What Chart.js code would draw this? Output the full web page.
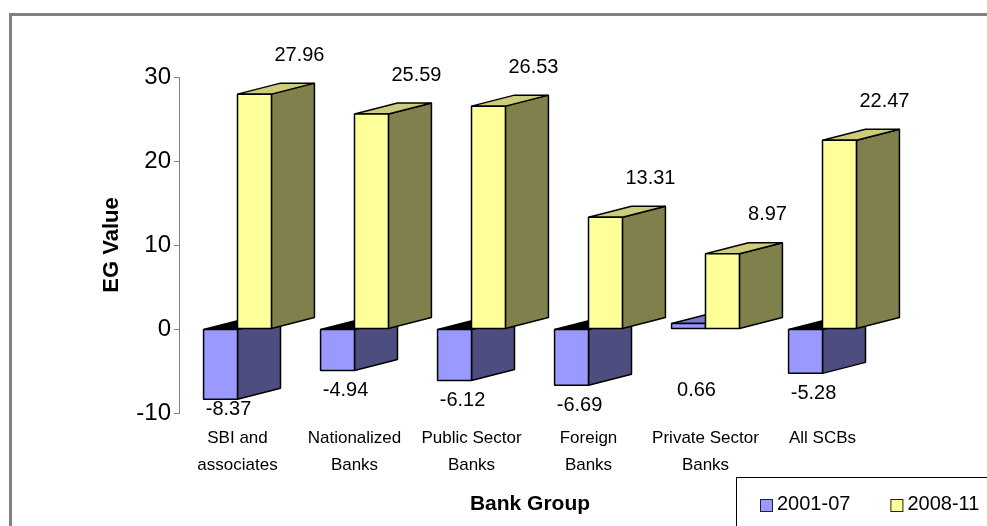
<!DOCTYPE html>
<html>
<head>
<meta charset="utf-8">
<title>EG Value by Bank Group</title>
<script src="https://cdn.jsdelivr.net/npm/chart.js@4.4.1/dist/chart.umd.min.js"></script>
<style>
  html, body { margin: 0; padding: 0; background: #fff; }
  canvas { display: block; }
</style>
</head>
<body>
<canvas id="egChart" width="987" height="526"></canvas>
<script>
const bankGroups = [
  ['SBI and', 'associates'],
  ['Nationalized', 'Banks'],
  ['Public Sector', 'Banks'],
  ['Foreign', 'Banks'],
  ['Private Sector', 'Banks'],
  ['All SCBs']
];
const periods = ['2001-07', '2008-11'];
const eg2001 = [-8.37, -4.94, -6.12, -6.69, 0.66, -5.28];
const eg2008 = [27.96, 25.59, 26.53, 13.31, 8.97, 22.47];

const fontFamily = 'Arial, "Liberation Sans", sans-serif';

// front / side / top shading of the boxes
const faces = [
  { front: '#9999FF', side: '#4D4D80', top: '#7A7ACC' },
  { front: '#FFFF99', side: '#80804D', top: '#CCCC7A' }
];

// oblique depth of each box
const depthX = 43;
const depthY = -11;

function face(c, pts, fill) {
  c.beginPath();
  c.moveTo(pts[0][0], pts[0][1]);
  for (let k = 1; k < pts.length; k++) c.lineTo(pts[k][0], pts[k][1]);
  c.closePath();
  c.fillStyle = fill;
  c.fill();
  c.stroke();
}

// draws every bar as a box, category by category so the front faces overlap properly
const bars3d = {
  id: 'bars3d',
  beforeDatasetsDraw(chart) {
    const c = chart.ctx;
    const metas = chart.data.datasets.map((ds, d) => chart.getDatasetMeta(d));
    c.save();
    c.lineWidth = 1.5;
    c.strokeStyle = '#000';
    c.lineJoin = 'bevel';
    for (let i = 0; i < chart.data.labels.length; i++) {
      metas.forEach((meta, d) => {
        const bar = meta.data[i];
        const v = chart.data.datasets[d].data[i];
        const l = bar.x - bar.width / 2;
        const r = bar.x + bar.width / 2;
        const t = Math.min(bar.y, bar.base);
        const b = Math.max(bar.y, bar.base);
        const f = faces[d];
        face(c, [[r, t], [r + depthX, t + depthY], [r + depthX, b + depthY], [r, b]], f.side);
        face(c, [[l, t], [r, t], [r + depthX, t + depthY], [l + depthX, t + depthY]], v < 0 ? '#000' : f.top);
        face(c, [[l, t], [r, t], [r, b], [l, b]], f.front);
      });
    }
    c.restore();
    return false;
  }
};

// value labels
const valueLabels = {
  id: 'valueLabels',
  afterDraw(chart) {
    const c = chart.ctx;
    const zero = chart.scales.y.getPixelForValue(0);
    const floor = chart.chartArea.bottom - 4;
    c.save();
    c.font = '20px ' + fontFamily;
    c.fillStyle = '#000';
    c.textAlign = 'center';
    c.textBaseline = 'middle';
    chart.data.datasets.forEach((ds, d) => {
      chart.getDatasetMeta(d).data.forEach((bar, i) => {
        const txt = ds.data[i].toFixed(2);
        if (d === 0) {
          // 2001-07 labels go in a lane under the zero line
          const below = Math.max(bar.y, bar.base) + 20;
          c.fillText(txt, bar.x + 8, Math.min(Math.max(below, zero + 61), floor));
        } else {
          // 2008-11 labels float over the back edge of the box
          c.fillText(txt, bar.x + depthX + 2, bar.y + depthY - 28);
        }
      });
    });
    c.restore();
  }
};

// page frame and the boxed legend in the lower right corner
const frame = {
  id: 'frame',
  beforeDraw(chart) {
    const c = chart.ctx;
    c.save();
    c.fillStyle = '#fff';
    c.fillRect(0, 0, chart.width, chart.height);
    c.strokeStyle = '#808080';
    c.lineWidth = 3;
    c.beginPath();
    c.moveTo(10.5, chart.height + 5);
    c.lineTo(10.5, 14.5);
    c.lineTo(chart.width + 5, 14.5);
    c.stroke();
    c.restore();
  },
  afterDraw(chart) {
    const c = chart.ctx;
    c.save();
    c.strokeStyle = '#000';
    c.lineWidth = 1;
    c.strokeRect(736.5, 477.5, 400, 100);
    c.font = '20px ' + fontFamily;
    c.textBaseline = 'middle';
    let x = 760;
    const cy = 504;
    chart.data.datasets.forEach(ds => {
      c.fillStyle = ds.backgroundColor;
      c.fillRect(x, cy - 5, 13, 13);
      c.strokeStyle = '#222';
      c.strokeRect(x + 0.5, cy - 4.5, 12, 12);
      c.fillStyle = '#000';
      c.fillText(ds.label, x + 17, cy);
      x += 17 + c.measureText(ds.label).width + 40;
    });
    c.restore();
  }
};

const ctx = document.getElementById('egChart').getContext('2d');

new Chart(ctx, {
  type: 'bar',
  data: {
    labels: bankGroups,
    datasets: [{
      label: periods[0],
      data: eg2001,
      backgroundColor: faces[0].front
    }, {
      label: periods[1],
      data: eg2008,
      backgroundColor: faces[1].front
    }]
  },
  options: {
    responsive: false,
    animation: false,
    categoryPercentage: 0.58,
    barPercentage: 1.0,
    layout: {
      padding: { top: 77, right: 106, bottom: 0, left: 0 }
    },
    plugins: {
      legend: { display: false },
      tooltip: { enabled: false }
    },
    scales: {
      x: {
        grid: { display: false },
        border: { display: false },
        ticks: {
          color: '#000',
          padding: 4,
          maxRotation: 0,
          autoSkip: false,
          font: { size: 17, family: fontFamily, lineHeight: 1.57 }
        },
        title: {
          display: true,
          text: 'Bank Group',
          color: '#000',
          padding: { top: 0, bottom: 9 },
          font: { size: 21, family: fontFamily, weight: 'bold' }
        },
        afterFit(scale) { scale.height = 113; }
      },
      y: {
        min: -10,
        max: 30,
        grid: {
          display: true,
          drawOnChartArea: false,
          drawTicks: true,
          tickLength: 5,
          color: '#808080'
        },
        border: { display: true, color: '#808080', width: 1 },
        ticks: {
          stepSize: 10,
          color: '#000',
          padding: 3,
          font: { size: 24, family: fontFamily }
        },
        title: {
          display: true,
          text: 'EG Value',
          color: '#000',
          padding: { top: 99, bottom: 0 },
          font: { size: 22, family: fontFamily, weight: 'bold' }
        },
        afterFit(scale) { scale.width = 179; }
      }
    }
  },
  plugins: [frame, bars3d, valueLabels]
});
</script>
</body>
</html>
